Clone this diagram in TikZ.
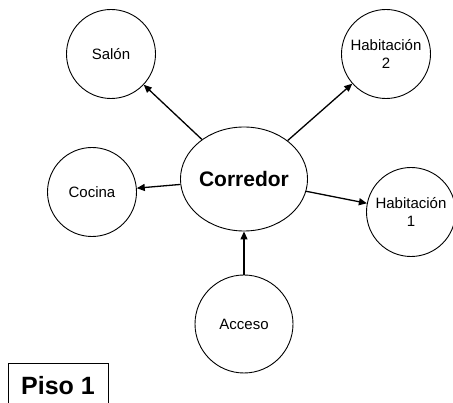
\documentclass[tikz,border=0pt]{standalone}
\usepackage{fontspec}
\setmainfont{Liberation Sans}
\usetikzlibrary{arrows.meta,shapes.geometric}
\begin{document}
\begin{tikzpicture}[x=1pt,y=-1pt,
  room/.style={draw, circle, line width=0.9pt, minimum size=89pt, inner sep=0pt, align=center, font=\fontsize{15}{18}\selectfont},
  conn/.style={line width=1.3pt, -{Triangle[length=8pt,width=7pt]}}]
\clip (0,0) rectangle (453,403);
\fill[white] (0,0) rectangle (453,403);
\node[room] (salon) at (111,54) {Salón};
\node[room] (hab2) at (386,54) {Habitación\\2};
\node[room] (cocina) at (92,192) {Cocina};
\node[room] (hab1) at (411,212) {Habitación\\1};
\node[room, minimum size=98pt] (acceso) at (244,324) {Acceso};
\node[draw, ellipse, line width=0.9pt, minimum width=108pt, minimum height=104pt, inner sep=0pt, font=\fontsize{21}{24}\selectfont\bfseries] (corr) at (244,179) {Corredor};
\node[draw, line width=0.9pt, minimum width=100pt, minimum height=44pt, anchor=north, font=\fontsize{25}{28}\selectfont\bfseries] (piso) at (58,363) {Piso 1};
\draw[conn] (corr) -- (salon);
\draw[conn] (corr) -- (hab2);
\draw[conn] (corr) -- (cocina);
\draw[conn] (corr) -- (hab1);
\draw[conn] (acceso) -- (corr);
\end{tikzpicture}
\end{document}
